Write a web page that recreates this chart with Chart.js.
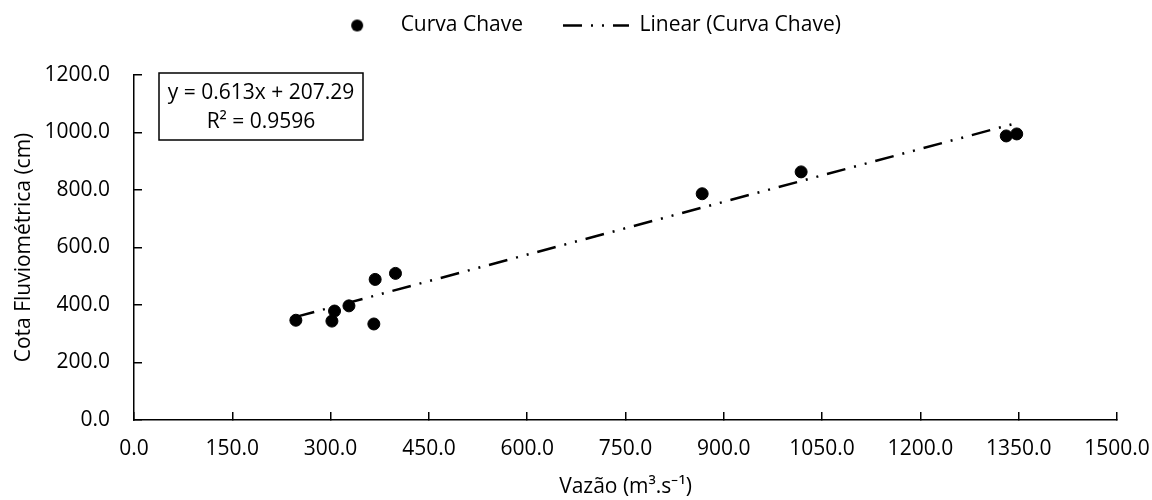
<!DOCTYPE html>
<html>
<head>
<meta charset="utf-8">
<script src="https://cdn.jsdelivr.net/npm/chart.js@4/dist/chart.umd.min.js"></script>
<style>
  html, body { margin: 0; padding: 0; background: #fff; }
  #wrap { width: 1152px; height: 500px; }
</style>
</head>
<body>
<div id="wrap"><canvas id="chart" width="1152" height="500"></canvas></div>
<script>
'use strict';

const vazao = [247, 302, 306, 328, 366, 368, 399, 867, 1018, 1331, 1347];
const cota  = [347, 344, 379, 397, 334, 489, 510, 787, 863, 988, 995];

// Excel trendline as printed on the chart
const slope = 0.613;
const intercept = 207.29;
const r2 = 0.9596;

const seriesNames = ['Curva Chave', 'Linear (Curva Chave)'];
const xTitle = 'Vazão (m³.s⁻¹)';
const yTitle = 'Cota Fluviométrica (cm)';

const FONT = "'Open Sans', sans-serif";
const FS = 21;
const DASH = [19, 9, 2, 9, 2, 9];

const points = vazao.map((x, i) => ({ x: x, y: cota[i] }));
const xMin = Math.min(...vazao);
const xMax = Math.max(...vazao);
const trend = [xMin, xMax].map(x => ({ x: x, y: slope * x + intercept }));

// small filled dot for the legend (pointStyleWidth would stretch a circle)
const dot = document.createElement('canvas');
dot.width = 14; dot.height = 14;
const dctx = dot.getContext('2d');
dctx.fillStyle = '#000';
dctx.beginPath();
dctx.arc(7, 7, 6, 0, Math.PI * 2);
dctx.fill();

const equationBox = {
  id: 'equationBox',
  afterDraw(chart) {
    const { ctx, chartArea } = chart;
    const left = chartArea.left + 25;
    const top = chartArea.top - 2;
    const w = 204, h = 67;
    ctx.save();
    ctx.fillStyle = '#fff';
    ctx.fillRect(left, top, w, h);
    ctx.strokeStyle = '#000';
    ctx.lineWidth = 1.5;
    ctx.strokeRect(left, top, w, h);
    ctx.fillStyle = '#000';
    ctx.font = FS + 'px ' + FONT;
    ctx.textAlign = 'center';
    ctx.textBaseline = 'middle';
    ctx.fillText('y = ' + slope.toFixed(3) + 'x + ' + intercept.toFixed(2), left + w / 2, top + 20);
    ctx.fillText('R² = ' + r2.toFixed(4), left + w / 2, top + 49);
    ctx.restore();
  }
};

// legend: fixed band height above the plot, then nudged into place
const legendPlace = {
  id: 'legendPlace',
  beforeLayout(chart) {
    const lg = chart.legend;
    if (lg && !lg._fixed) {
      const fit = lg.fit;
      lg.fit = function () { fit.call(this); this.height = 75; };
      lg._fixed = true;
    }
  },
  afterLayout(chart) {
    const lg = chart.legend;
    lg.top = -25;
    lg.left += 13;
    lg.right += 13;
  }
};

new Chart(document.getElementById('chart'), {
  type: 'scatter',
  data: {
    datasets: [
      {
        label: seriesNames[0],
        data: points,
        backgroundColor: '#000',
        borderColor: '#000',
        pointRadius: 6,
        pointHoverRadius: 6,
        order: 1
      },
      {
        label: seriesNames[1],
        type: 'line',
        data: trend,
        showLine: true,
        fill: false,
        pointRadius: 0,
        borderColor: '#000',
        borderWidth: 2.5,
        borderDash: DASH,
        pointStyle: 'line',
        order: 2
      }
    ]
  },
  options: {
    responsive: false,
    animation: false,
    events: [],
    layout: { padding: { left: 0, right: 13, top: 0, bottom: 0 } },
    plugins: {
      legend: {
        position: 'top',
        labels: {
          usePointStyle: true,
          pointStyleWidth: 66,
          padding: 40,
          color: '#000',
          font: { family: FONT, size: FS },
          generateLabels(chart) {
            const items = Chart.defaults.plugins.legend.labels.generateLabels(chart);
            items[0].pointStyle = dot;
            items[1].lineDash = DASH;
            items[1].lineWidth = 2.5;
            items[1].strokeStyle = '#000';
            return items;
          }
        }
      },
      tooltip: { enabled: false }
    },
    scales: {
      x: {
        type: 'linear',
        min: 0,
        max: 1500,
        afterFit(scale) {
          scale.height = 80;
          scale.paddingRight = 35;
        },
        ticks: {
          stepSize: 150,
          color: '#000',
          padding: 24,
          font: { family: FONT, size: FS },
          callback: v => v.toFixed(1)
        },
        grid: { drawOnChartArea: false, tickLength: -8, color: '#000', lineWidth: 1.5 },
        border: { color: '#000', width: 1.5 },
        title: {
          display: true,
          text: xTitle,
          color: '#000',
          font: { family: FONT, size: FS },
          padding: { top: 0, bottom: 0 }
        }
      },
      y: {
        min: 0,
        max: 1200,
        afterFit(scale) { scale.width = 134; },
        ticks: {
          stepSize: 200,
          color: '#000',
          padding: 32,
          font: { family: FONT, size: FS },
          callback: v => v.toFixed(1)
        },
        grid: { drawOnChartArea: false, tickLength: -8, color: '#000', lineWidth: 1.5 },
        border: { color: '#000', width: 1.5 },
        title: {
          display: true,
          text: yTitle,
          color: '#000',
          font: { family: FONT, size: FS },
          padding: { top: 11, bottom: 0 }
        }
      }
    }
  },
  plugins: [equationBox, legendPlace]
});
</script>
</body>
</html>
